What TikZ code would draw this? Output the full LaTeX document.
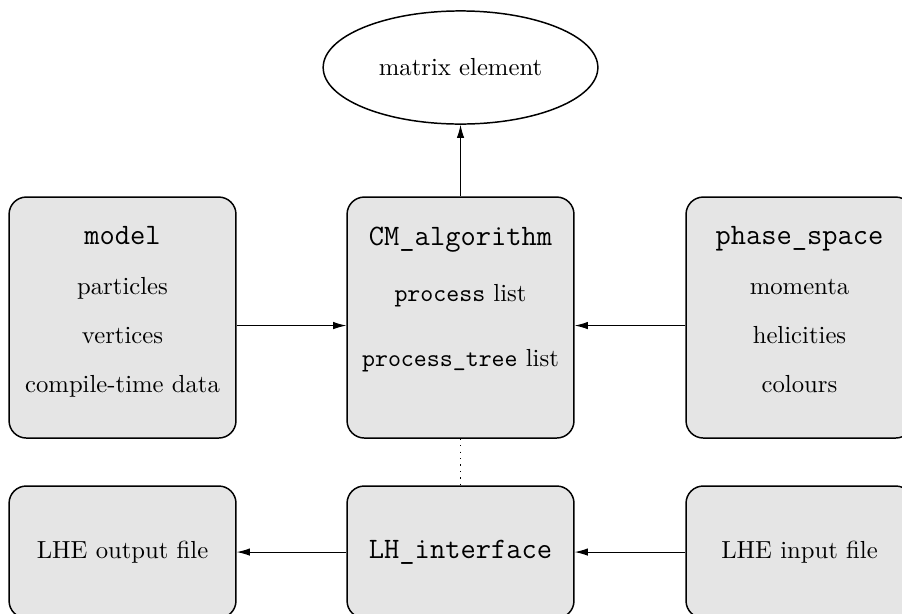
\documentclass[tikz,border=0pt]{standalone}
\usepackage{tikz}
\usetikzlibrary{arrows.meta,positioning,shapes.geometric}

\begin{document}
\begin{tikzpicture}[
  module/.style={draw=black, semithick, rounded corners=7pt, fill=gray!20, inner sep=0pt, minimum width=3.23cm, minimum height=1.88cm},
  link/.style={thin, -{Latex[length=5.3pt,width=3pt]}}
]
  \useasboundingbox (0,0) rectangle (12.839,8.726);

  \node (me) [ellipse, draw=black, semithick, inner sep=0pt, minimum width=3.91cm, minimum height=1.61cm] at (6.555,7.765) {matrix element};

  \node (model) [module] at (1.744,4.206) {\parbox[c][3.43cm][t]{3.23cm}{\centering\vspace*{12pt}
    {\large\texttt{model}}\\[8pt] particles\\[8pt] vertices\\[8pt] compile-time data}};
  \node (cm) [module] at (6.555,4.206) {\parbox[c][3.43cm][t]{3.23cm}{\centering\vspace*{12pt}
    {\large\texttt{CM\_algorithm}}\\[11pt] \texttt{process} list\\[14pt] \texttt{process\_tree} list}};
  \node (phase) [module] at (11.380,4.206) {\parbox[c][3.43cm][t]{3.23cm}{\centering\vspace*{12pt}
    {\large\texttt{phase\_space}}\\[8pt] momenta\\[8pt] helicities\\[8pt] colours}};

  \node (lheout) [module] at (1.744,0.868) {LHE output file};
  \node (lh) [module] at (6.555,0.868) {\large\texttt{LH\_interface}};
  \node (lhein) [module] at (11.380,0.868) {LHE input file};

  \draw [link] (cm.north) -- (me.south);
  \draw [link] ([yshift=-0.114cm]model.east) -- ([yshift=-0.114cm]cm.west);
  \draw [link] ([yshift=-0.114cm]phase.west) -- ([yshift=-0.114cm]cm.east);
  \draw [line width=0.5pt, dash pattern=on 0.5pt off 2.1pt] (cm.south) -- (lh.north);
  \draw [link] (lh.west) -- (lheout.east);
  \draw [link] (lhein.west) -- (lh.east);
\end{tikzpicture}
\end{document}
